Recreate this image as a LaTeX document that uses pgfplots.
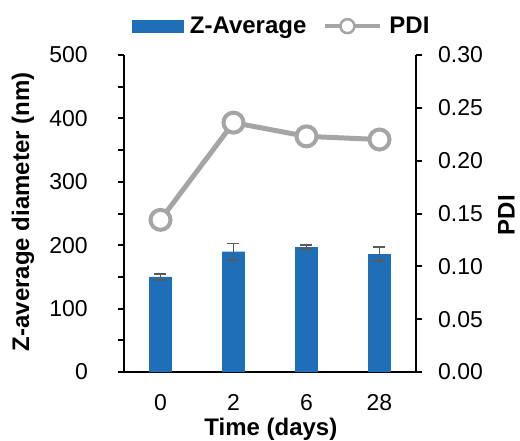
\documentclass[border=0pt]{standalone}
\usepackage{fontspec}
\setmainfont{Liberation Sans}
\usepackage{pgfplots}
\pgfplotsset{compat=1.18}
\definecolor{barblue}{RGB}{31,111,184}
\definecolor{linegray}{RGB}{165,165,165}
\definecolor{errgray}{RGB}{90,90,90}
\begin{document}
\begin{tikzpicture}
\useasboundingbox (-124pt,-68pt) rectangle (396pt,372pt);
\pgfplotsset{
  common/.style={
    scale only axis, width=292pt, height=317pt,
    at={(0pt,0pt)}, anchor=south west,
    xmin=-0.5, xmax=3.5, xtick={0,1,2,3}, xticklabels={0,2,6,28},
    /pgf/number format/assume math mode=true,
    ticklabel style={font=\fontsize{23}{27}\selectfont, inner sep=0pt},
    label style={font=\fontsize{24}{29}\selectfont\bfseries, inner sep=0pt},
    axis line style={line width=2.2pt, black, -},
    tick style={line width=2pt, black},
    tick align=outside, major tick length=6pt, minor tick length=6pt,
    clip=false,
  }
}
\begin{axis}[common,
  axis y line*=left, axis x line*=bottom,
  ymin=0, ymax=500, ytick={0,100,200,300,400,500}, minor ytick={50,150,250,350,450},
  xtick style={draw=none},
  xticklabel style={anchor=base, yshift=-32pt},
  yticklabel style={anchor=east, xshift=-30pt},
  xlabel={Time (days)},
  xlabel style={at={(axis description cs:0.503,-0.199)}, anchor=base},
  ylabel={Z-average diameter (nm)},
  ylabel style={at={(axis description cs:-0.346,0.505)}, anchor=center},
]
\addplot[ybar, bar width=22.7pt, fill=barblue, draw=none,
  error bars/.cd, y dir=both, y explicit, error mark=-,
  error bar style={draw=errgray, line width=1.6pt},
  error mark options={rotate=90, draw=errgray, line width=1.6pt, mark size=6pt}]
  coordinates {(0,150) +- (0,5) (1,190) +- (0,13) (2,197) +- (0,3) (3,186) +- (0,11)};
\end{axis}
\begin{axis}[common,
  axis y line*=right, axis x line=none,
  ymin=0, ymax=0.3, ytick={0,0.05,0.1,0.15,0.2,0.25,0.3},
  scaled y ticks=false,
  yticklabel style={anchor=west, xshift=16pt, /pgf/number format/.cd, fixed, fixed zerofill, precision=2},
  ylabel={PDI},
  ylabel style={at={(axis description cs:1.338,0.495)}, anchor=base},
  legend columns=2,
  legend style={draw=none, fill=none, at={(axis description cs:0.536,1.091)}, anchor=center,
    font=\fontsize{24}{29}\selectfont\bfseries, nodes={inner sep=0pt},
    /tikz/every odd column/.append style={column sep=7pt},
    /tikz/every even column/.append style={column sep=17pt}},
]
\addlegendimage{legend image code/.code={\fill[barblue] (0pt,-6pt) rectangle (51pt,6pt);}}
\addlegendentry{Z-Average}
\addplot[linegray, line width=5pt, mark=*, mark size=10pt,
  mark options={fill=white, draw=linegray, line width=4pt},
  legend image code/.code={\draw[linegray, line width=4pt] (0pt,0pt) -- (55pt,0pt);
    \draw[linegray, line width=2.5pt, fill=white] (22pt,0pt) circle (7pt);}]
  coordinates {(0,0.144) (1,0.236) (2,0.223) (3,0.220)};
\addlegendentry{PDI}
\addplot[draw=none, mark=none, forget plot,
  error bars/.cd, y dir=both, y explicit, error mark=-,
  error bar style={draw=errgray, line width=1.6pt},
  error mark options={rotate=90, draw=errgray, line width=1.6pt, mark size=6pt}]
  coordinates {(0,0.144) +- (0,0.003) (1,0.236) +- (0,0.004) (2,0.223) +- (0,0.008) (3,0.220) +- (0,0.005)};
\end{axis}
\end{tikzpicture}
\end{document}
